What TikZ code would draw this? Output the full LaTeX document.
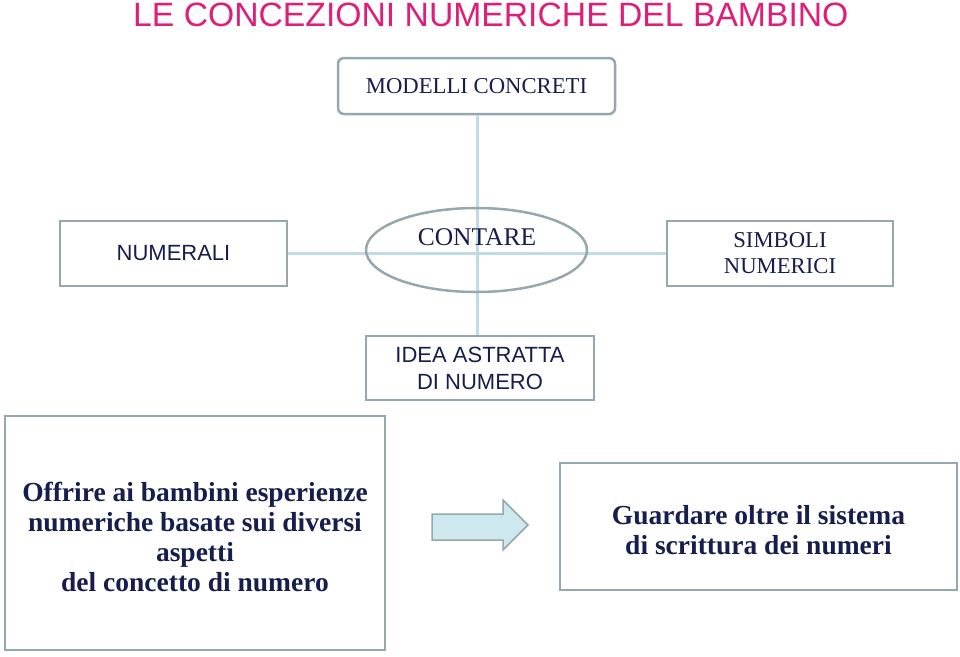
\documentclass[tikz,border=0pt]{standalone}
\usepackage{fontspec}
\setmainfont{Liberation Serif}
\newfontfamily\sansf{Liberation Sans}
\usetikzlibrary{shapes.geometric}
\definecolor{titlepink}{RGB}{222,30,120}
\definecolor{navy}{RGB}{22,30,78}
\definecolor{boxgray}{RGB}{150,168,174}
\definecolor{linkblue}{RGB}{190,220,228}
\definecolor{arrowfill}{RGB}{205,232,238}
\begin{document}
\begin{tikzpicture}[x=1pt,y=-1pt,
  box/.style={draw=boxgray,line width=2.5pt,fill=white,text=navy,align=center,inner sep=0pt},
  txt/.style={text=navy,align=center,inner sep=0pt},
  link/.style={draw=linkblue,line width=3pt},
  serift/.style={font=\fontsize{22.7}{26}\selectfont},
  sanst/.style={font=\sansf\fontsize{22}{27}\selectfont},
  boldt/.style={font=\bfseries\fontsize{27.5}{29.8}\selectfont}]
\useasboundingbox (0,0) rectangle (960,656);
\node[box,rounded corners=6pt,minimum width=277pt,minimum height=56pt,serift] (modelli) at (476.5,86) {MODELLI CONCRETI};
\node[box,minimum width=227pt,minimum height=65pt,sanst] (numerali) at (173.5,253.5) {NUMERALI};
\node[box,minimum width=226pt,minimum height=65pt,serift] (simboli) at (780,253.5) {SIMBOLI\\NUMERICI};
\coordinate (ideatop) at (477,336);
\path[link] (modelli.south -| ideatop) -- (ideatop);
\path[link] (numerali.east) -- (simboli.west);
\node[draw=boxgray,line width=2.5pt,ellipse,minimum width=221pt,minimum height=84pt,inner sep=0pt] (contare) at (476.5,250) {};
\node[txt,font=\fontsize{25.5}{28}\selectfont] (contaretxt) at (477,237) {CONTARE};
\node[box,minimum width=228pt,minimum height=64pt,sanst] (idea) at (480,368) {IDEA ASTRATTA\\DI NUMERO};
\node[box,minimum width=380pt,minimum height=234pt] (offrire) at (195,533) {};
\node[txt,boldt] (offriretxt) at (195,537) {Offrire ai bambini esperienze\\numeriche basate sui diversi\\aspetti\\del concetto di numero};
\node[box,minimum width=397pt,minimum height=127pt] (guardare) at (758.5,526.5) {};
\node[txt,boldt] (guardaretxt) at (758.5,530.5) {Guardare oltre il sistema\\di scrittura dei numeri};
\draw[draw=boxgray,line width=1.5pt,fill=arrowfill] (432,514) -- (503,514) -- (503,500) -- (528,525) -- (503,550) -- (503,540) -- (432,540) -- cycle;
\node[anchor=base west,text=titlepink,font=\sansf\fontsize{33.7}{36}\selectfont,inner sep=0pt] (title) at (133,26) {LE CONCEZIONI NUMERICHE DEL BAMBINO};
\end{tikzpicture}
\end{document}
